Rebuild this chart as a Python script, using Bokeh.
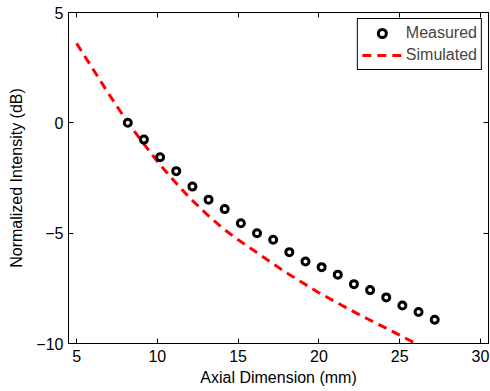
from bokeh.plotting import figure
from bokeh.models import Range1d, LinearAxis, FixedTicker, Legend, LegendItem
from bokeh.embed import file_html
from bokeh.resources import INLINE

# Measured data (axial dimension in mm, normalized intensity in dB)
measured_x = [8.17, 9.17, 10.17, 11.17, 12.17, 13.17, 14.17, 15.17, 16.17, 17.17,
              18.17, 19.17, 20.17, 21.17, 22.17, 23.17, 24.17, 25.17, 26.17, 27.17]
measured_y = [0.0, -0.76, -1.56, -2.19, -2.89, -3.48, -3.91, -4.55, -5.0, -5.30,
              -5.86, -6.28, -6.54, -6.88, -7.31, -7.58, -7.91, -8.28, -8.57, -8.92]

# Simulated curve
sim_x = [5, 6, 7, 8, 9, 10, 11, 12, 13, 14, 15, 16, 17, 18, 19, 20, 21, 22, 23, 24, 25, 26]
sim_y = [3.6, 2.45, 1.3, 0.2, -0.8, -1.75, -2.6, -3.4, -4.1, -4.75, -5.3, -5.8, -6.3,
         -6.8, -7.25, -7.7, -8.1, -8.5, -8.88, -9.25, -9.62, -10.0]

x_ticks = [5, 10, 15, 20, 25, 30]
y_ticks = [-10, -5, 0, 5]
y_tick_labels = {-10: "\u221210", -5: "\u22125", 0: "0", 5: "5"}

FONT = "Liberation Sans"
FS = "16px"

p = figure(width=490, height=391, output_backend="svg", toolbar_location=None,
           x_range=Range1d(4.5, 30.5), y_range=Range1d(-10, 5),
           min_border_left=68, min_border_right=2, min_border_top=12, min_border_bottom=48)
p.xgrid.visible = False
p.ygrid.visible = False
p.outline_line_color = "black"
p.outline_line_alpha = 1.0
p.outline_line_width = 1
p.background_fill_color = "white"
p.border_fill_color = "white"

def style_axis(ax, show_labels=True):
    ax.major_tick_in = 5
    ax.major_tick_out = 0
    ax.minor_tick_line_color = None
    ax.axis_line_color = "black"
    ax.major_tick_line_color = "black"
    if show_labels:
        ax.major_label_text_font = FONT
        ax.major_label_text_font_size = FS
        ax.major_label_text_color = "black"
        ax.axis_label_text_font = FONT
        ax.axis_label_text_font_size = FS
        ax.axis_label_text_font_style = "normal"
        ax.axis_label_text_color = "black"
    else:
        ax.major_label_text_font_size = "0px"
        ax.major_label_text_color = None
        ax.major_label_standoff = 0

p.xaxis.ticker = FixedTicker(ticks=x_ticks)
p.yaxis.ticker = FixedTicker(ticks=y_ticks)
p.yaxis.major_label_overrides = y_tick_labels
p.xaxis.axis_label = "Axial Dimension (mm)"
p.yaxis.axis_label = "Normalized Intensity (dB)"
for ax in p.xaxis + p.yaxis:
    style_axis(ax)
p.xaxis.major_label_standoff = 6
p.xaxis.axis_label_standoff = 4
p.yaxis.major_label_standoff = 5
p.yaxis.axis_label_standoff = 8

top_ax = LinearAxis(ticker=FixedTicker(ticks=x_ticks))
style_axis(top_ax, False)
p.add_layout(top_ax, "above")
right_ax = LinearAxis(ticker=FixedTicker(ticks=y_ticks))
style_axis(right_ax, False)
p.add_layout(right_ax, "right")

r_sim = p.line(sim_x, sim_y, line_color="#FF0000", line_width=3, line_dash="9 6")
r_meas = p.scatter(measured_x, measured_y, marker="circle", size=7, line_width=3,
                   line_color="black", fill_color="white")

legend = Legend(items=[LegendItem(label="Measured", renderers=[r_meas]),
                       LegendItem(label="Simulated", renderers=[r_sim])],
                location="top_right")
legend.label_text_font = FONT
legend.label_text_font_size = FS
legend.border_line_color = "black"
legend.border_line_width = 1
legend.border_line_alpha = 1
legend.background_fill_alpha = 1
legend.glyph_width = 40
legend.glyph_height = 20
legend.spacing = 2
legend.padding = 4
legend.margin = 6
legend.label_standoff = 4
p.add_layout(legend)

open("out.html", "w").write(file_html(p, INLINE))
